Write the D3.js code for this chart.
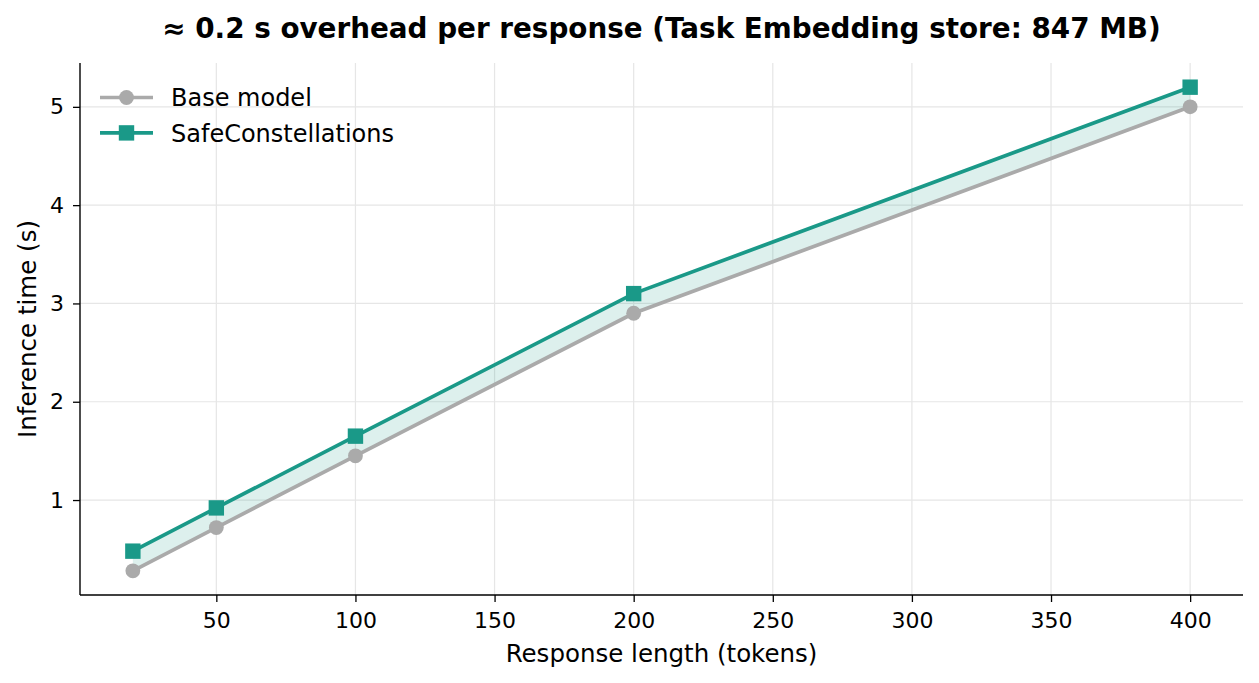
<!DOCTYPE html>
<html>
<head>
<meta charset="utf-8">
<style>
  body { margin: 0; background: #fff; }
  svg { font-family: "DejaVu Sans", sans-serif; }
</style>
</head>
<body>
<div class="container"></div>
<script src="https://d3js.org/d3.v7.min.js"></script>
<script>
  var lengths = [20, 50, 100, 200, 400];
  var baseTimes = [0.28, 0.72, 1.45, 2.9, 5.0];
  var safeTimes = [0.48, 0.92, 1.65, 3.1, 5.2];
  var xTicks = [50, 100, 150, 200, 250, 300, 350, 400];
  var yTicks = [1, 2, 3, 4, 5];

  var width = 1259, height = 683,
      margin = { left: 80, right: 16, top: 63, bottom: 88 };

  var svg = d3.select('.container').append('svg')
      .attr('width', width).attr('height', height);

  var x = d3.scaleLinear().domain([1, 419]).range([margin.left, width - margin.right]);
  var y = d3.scaleLinear().domain([0.034, 5.446]).range([height - margin.bottom, margin.top]);

  var teal = '#1a9988', grey = '#aaaaaa';

  // grid
  var grid = svg.append('g');
  grid.selectAll('.gx').data(xTicks).enter().append('line')
      .attr('x1', d => x(d)).attr('x2', d => x(d))
      .attr('y1', y.range()[0]).attr('y2', y.range()[1])
      .attr('stroke', '#e6e6e6').attr('stroke-width', 1.2);
  grid.selectAll('.gy').data(yTicks).enter().append('line')
      .attr('y1', d => y(d)).attr('y2', d => y(d))
      .attr('x1', x.range()[0]).attr('x2', x.range()[1])
      .attr('stroke', '#e6e6e6').attr('stroke-width', 1.2);

  var rows = lengths.map((l, i) => ({ l: l, b: baseTimes[i], s: safeTimes[i] }));

  // band between the two lines
  svg.append('path').datum(rows)
      .attr('fill', teal).attr('fill-opacity', 0.15)
      .attr('d', d3.area().x(d => x(d.l)).y0(d => y(d.b)).y1(d => y(d.s)));

  var line = function(key) { return d3.line().x(d => x(d.l)).y(d => y(d[key])); };

  svg.append('path').datum(rows)
      .attr('fill', 'none').attr('stroke', grey).attr('stroke-width', 3.7)
      .attr('d', line('b'));
  svg.selectAll('.pb').data(rows).enter().append('circle')
      .attr('cx', d => x(d.l)).attr('cy', d => y(d.b)).attr('r', 7.4)
      .attr('fill', grey);

  svg.append('path').datum(rows)
      .attr('fill', 'none').attr('stroke', teal).attr('stroke-width', 3.7)
      .attr('d', line('s'));
  svg.selectAll('.ps').data(rows).enter().append('rect')
      .attr('x', d => x(d.l) - 7.7).attr('y', d => y(d.s) - 7.7)
      .attr('width', 15.4).attr('height', 15.4)
      .attr('fill', teal);

  // axes
  var xAxis = svg.append('g')
      .attr('transform', 'translate(0,' + y.range()[0] + ')')
      .call(d3.axisBottom(x).tickValues(xTicks).tickFormat(d3.format('d')).tickSize(7).tickPadding(10));
  var yAxis = svg.append('g')
      .attr('transform', 'translate(' + x.range()[0] + ',0)')
      .call(d3.axisLeft(y).tickValues(yTicks).tickFormat(d3.format('d')).tickSize(7).tickPadding(9));
  [xAxis, yAxis].forEach(function(a) {
    a.attr('font-size', null);
    a.selectAll('text').attr('font-size', 22).attr('fill', '#000')
      .attr('font-family', '"DejaVu Sans", sans-serif');
    a.selectAll('line').attr('stroke', '#000').attr('stroke-width', 1.3);
    a.select('.domain').attr('stroke', '#000').attr('stroke-width', 1.4)
      .attr('d', a === xAxis
        ? 'M' + x.range()[0] + ',0H' + x.range()[1]
        : 'M0,' + y.range()[0] + 'V' + y.range()[1]);
  });

  svg.append('text')
      .attr('x', (x.range()[0] + x.range()[1]) / 2).attr('y', 662)
      .attr('text-anchor', 'middle').attr('font-size', 24.5)
      .text('Response length (tokens)');
  svg.append('text')
      .attr('transform', 'translate(36,' + (y.range()[0] + y.range()[1]) / 2 + ') rotate(-90)')
      .attr('text-anchor', 'middle').attr('font-size', 24.5)
      .text('Inference time (s)');

  svg.append('text')
      .attr('x', (x.range()[0] + x.range()[1]) / 2).attr('y', 38)
      .attr('text-anchor', 'middle').attr('font-size', 27.8).attr('font-weight', 'bold')
      .text('\u2248 0.2 s overhead per response (Task Embedding store: 847 MB)');

  // legend
  var legend = svg.append('g').attr('transform', 'translate(100,97.5)');
  var items = [
    { name: 'Base model', color: grey, shape: 'circle' },
    { name: 'SafeConstellations', color: teal, shape: 'square' }
  ];
  items.forEach(function(it, i) {
    var g = legend.append('g').attr('transform', 'translate(0,' + i * 35.4 + ')');
    g.append('line').attr('x1', 0).attr('x2', 53).attr('y1', 0).attr('y2', 0)
      .attr('stroke', it.color).attr('stroke-width', 3.7);
    if (it.shape === 'circle') {
      g.append('circle').attr('cx', 26.5).attr('cy', 0).attr('r', 7.4).attr('fill', it.color);
    } else {
      g.append('rect').attr('x', 18.8).attr('y', -7.7).attr('width', 15.4).attr('height', 15.4).attr('fill', it.color);
    }
    g.append('text').attr('x', 71).attr('y', 8.6).attr('font-size', 24).text(it.name);
  });
</script>
</body>
</html>
